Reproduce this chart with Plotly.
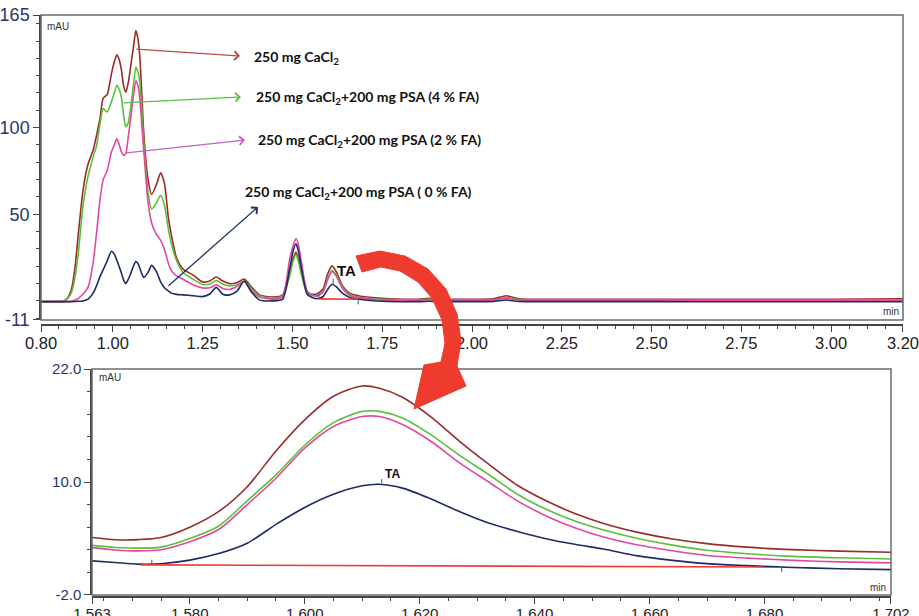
import plotly.graph_objects as go

# ---------------- data ----------------
time_min = [0.80, 0.85, 0.862, 0.875, 0.885, 0.895, 0.904, 0.917, 0.931, 0.945,
            0.955, 0.964, 0.973, 0.984, 0.996, 1.004, 1.011, 1.018, 1.024, 1.030,
            1.036, 1.043, 1.050, 1.057, 1.064, 1.070, 1.075, 1.080, 1.086, 1.098,
            1.108, 1.121, 1.133, 1.144, 1.154, 1.163, 1.177, 1.195, 1.223, 1.250,
            1.270, 1.288, 1.306, 1.325, 1.345, 1.366, 1.385, 1.408, 1.445, 1.473,
            1.492, 1.502, 1.510, 1.517, 1.524, 1.542, 1.566, 1.585, 1.598, 1.610,
            1.622, 1.640, 1.660, 1.690, 1.75, 1.85, 1.88, 1.91, 2.00, 2.06,
            2.095, 2.13, 2.25, 2.50, 2.75, 3.00, 3.20]

cacl2 = [-0.4, -0.4, -0.2, 2, 7, 20, 39, 64, 79, 87,
         96, 105, 117, 119, 131, 138, 142, 139, 133, 124,
         120.5, 126, 136, 146, 156, 151, 141, 122, 97, 70,
         61.5, 67, 74, 67.5, 49, 38, 25, 18.5, 15, 11,
         11.5, 13.8, 11.5, 10.0, 10.5, 12.6, 8.3, 3.5, 2.2, 3.5,
         18, 24.5, 28, 24, 18, 4.5, 3.9, 6.85, 15.5, 20.2,
         16.9, 8.5, 4.4, 2.7, 1.5, 1.0, 1.5, 1.0, 1.0, 1.2,
         3.0, 1.3, 1.0, 1.0, 1.0, 1.0, 1.2]

psa_4fa = [-0.4, -0.4, -0.3, 1.5, 5, 14, 28, 55, 72, 83,
           90, 102, 111, 109, 115, 120, 124.5, 122, 117, 107,
           100.5, 103, 112, 124, 135, 132, 126.5, 112, 92, 62.5,
           53, 56.5, 61, 55, 42, 33, 23.5, 16.5, 12.6, 9.5,
           9.8, 11.8, 9.8, 8.6, 9.3, 11.4, 7.2, 2.9, 1.6, 2.9,
           14, 23, 26.7, 22.5, 16, 4.0, 3.0, 5.3, 12.7, 17.5,
           15.0, 7.6, 3.7, 2.0, 1.0, 0.6, 1.0, 0.6, 0.5, 0.7,
           2.0, 0.8, 0.5, 0.5, 0.5, 0.5, 0.6]

psa_2fa = [-0.4, -0.4, -0.4, -0.4, -0.2, 0.5, 1.5, 4, 8, 22,
           40, 58, 70, 75, 86, 90, 93.6, 90, 86, 84,
           85, 95, 106, 118, 127, 124, 117, 103, 87, 57,
           45, 38.5, 35, 29.5, 22, 17.5, 14.5, 12.5, 9.3, 7.5,
           7.6, 9.3, 7.2, 6.6, 8.3, 11.2, 6.0, 2.2, 1.0, 2.5,
           23.8, 32, 36, 32, 23.8, 5.4, 2.7, 4.95, 12.3, 16.95,
           14.3, 7.0, 3.1, 1.6, 0.6, 0.3, 0.7, 0.3, 0.3, 0.4,
           1.5, 0.5, 0.3, 0.3, 0.2, 0.2, 0.3]

psa_0fa = [-0.4, -0.4, -0.4, -0.4, -0.4, -0.3, -0.2, 0, 1, 4.5,
           9, 14, 18, 23, 28.7, 27, 23.5, 19.5, 16, 12,
           10, 12.5, 16, 20, 22.8, 21.5, 19, 16, 13.5, 16.5,
           20.5, 17, 11, 7.5, 5.8, 4.5, 3.8, 3.5, 3, 2.5,
           4, 7.8, 3.8, 3.5, 5.5, 11.5, 5.4, 0.6, 0, 1.0,
           18, 29, 33, 28.5, 20, 3.5, 1.3, 2.4, 6.6, 9.6,
           8.2, 4.3, 2.0, 0.8, -0.2, -0.4, -0.2, -0.4, -0.4, -0.3,
           0.5, -0.3, -0.4, -0.4, -0.5, -0.5, -0.5]

# zoomed view of the TA peak
time_zoom = [1.563, 1.567, 1.571, 1.575, 1.580, 1.585, 1.590, 1.595, 1.600, 1.605,
             1.610, 1.613, 1.617, 1.622, 1.627, 1.632, 1.637, 1.642, 1.647, 1.652,
             1.658, 1.664, 1.670, 1.677, 1.685, 1.693, 1.702]
zoom_cacl2 = [4.1, 3.87, 3.88, 4.1, 5.2, 6.85, 9.5, 13.3, 16.6, 19.1,
              20.2, 19.95, 19.0, 16.9, 14.3, 11.9, 9.65, 8.0, 6.65, 5.6,
              4.65, 3.95, 3.45, 3.08, 2.82, 2.66, 2.54]
zoom_4fa = [3.27, 3.05, 2.98, 3.08, 4.0, 5.3, 8.0, 10.75, 13.9, 16.3,
            17.5, 17.5, 16.8, 15.0, 12.8, 10.8, 8.7, 7.1, 5.85, 4.9,
            4.0, 3.3, 2.75, 2.38, 2.1, 1.95, 1.83]
zoom_2fa = [3.03, 2.78, 2.68, 2.8, 3.65, 4.95, 7.6, 10.4, 13.6, 15.9,
            16.95, 16.95, 16.1, 14.3, 12.0, 10.0, 8.0, 6.4, 5.15, 4.15,
            3.3, 2.7, 2.2, 1.92, 1.68, 1.52, 1.41]
zoom_0fa = [1.62, 1.45, 1.28, 1.32, 1.70, 2.4, 3.5, 5.5, 7.3, 8.7,
            9.6, 9.76, 9.35, 8.2, 6.85, 5.65, 4.75, 3.98, 3.38, 2.88,
            2.15, 1.68, 1.33, 1.12, 0.92, 0.79, 0.69]

# TA integration (baseline start / end, apex)
ta_base_t = [1.5714, 1.6830]
ta_base_v = [1.20, 0.97]
ta_apex = (1.6134, 9.76)

series_names = ["250 mg CaCl<sub>2</sub>",
                "250 mg CaCl<sub>2</sub>+200 mg PSA (4 % FA)",
                "250 mg CaCl<sub>2</sub>+200 mg PSA (2 % FA)",
                "250 mg CaCl<sub>2</sub>+200 mg PSA ( 0 % FA)"]

main_xticks = [0.80, 1.00, 1.25, 1.50, 1.75, 2.00, 2.25, 2.50, 2.75, 3.00, 3.20]
main_yticks = [-11, 50, 100, 165]
zoom_xticks = [1.563, 1.580, 1.600, 1.620, 1.640, 1.660, 1.680, 1.702]
zoom_yticks = [-2.0, 10.0, 22.0]

# ---------------- styling ----------------
W, H = 919, 616
colors = ["#9a2b2b", "#5bbf3a", "#e2489e", "#1d2b66"]
arrow_colors = ["#b84a4a", "#5cc043", "#c35fc6", "#1f3263"]
NARROW = "Liberation Sans Narrow, Arial Narrow, Liberation Sans, Arial, sans-serif"
LABEL_FONT = "Lato, Open Sans, sans-serif"
EPS = 1e-4

def fx(p):
    return p / W

def fy(p):
    return 1 - p / H

fig = go.Figure()

main_series = [cacl2, psa_4fa, psa_2fa, psa_0fa]
zoom_series = [zoom_cacl2, zoom_4fa, zoom_2fa, zoom_0fa]
for ser, col, name in zip(main_series, colors, series_names):
    fig.add_trace(go.Scatter(x=time_min, y=ser, mode="lines", name=name,
                             line=dict(color=col, width=1.6, shape="spline", smoothing=0.6),
                             xaxis="x", yaxis="y", hoverinfo="skip"))
for ser, col, name in zip(zoom_series, colors, series_names):
    fig.add_trace(go.Scatter(x=time_zoom, y=ser, mode="lines", name=name,
                             line=dict(color=col, width=1.6, shape="spline", smoothing=0.8),
                             xaxis="x2", yaxis="y2", hoverinfo="skip"))

# integration baselines
for xa, ya in [("x", "y"), ("x2", "y2")]:
    fig.add_trace(go.Scatter(x=ta_base_t, y=ta_base_v, mode="lines",
                             line=dict(color="#ee3b36", width=1.6),
                             xaxis=xa, yaxis=ya, hoverinfo="skip"))

shapes = []
# frames
for xa, ya in [("x", "y"), ("x2", "y2")]:
    shapes.append(dict(type="rect", xref=f"{xa} domain", yref=f"{ya} domain",
                       x0=0, x1=1, y0=0, y1=1, line=dict(color="#6b6b6b", width=1.5)))

# integration tick marks
for xa, ya, h in [("x", "y", 3.0), ("x2", "y2", 0.55)]:
    shapes.append(dict(type="line", xref=xa, yref=ya, x0=ta_base_t[0] + 0.002, x1=ta_base_t[0] + 0.002,
                       y0=ta_base_v[0] + 0.05, y1=ta_base_v[0] + h, line=dict(color="#3a4fb0", width=1)))
    shapes.append(dict(type="line", xref=xa, yref=ya, x0=ta_base_t[1], x1=ta_base_t[1],
                       y0=ta_base_v[1] - h, y1=ta_base_v[1], line=dict(color="#3a4fb0", width=1)))
    shapes.append(dict(type="line", xref=xa, yref=ya, x0=ta_apex[0], x1=ta_apex[0],
                       y0=ta_apex[1] + 0.1, y1=ta_apex[1] + h, line=dict(color="#3a4fb0", width=1)))

# big red curved arrow (pixel outline -> paper coords)
outer = [(356, 256), (380, 251), (405, 256), (428, 269), (446, 289), (457, 314), (461, 341), (457, 366)]
inner = [(362, 272), (381, 267), (400, 271), (418, 282), (432, 298), (442, 320), (445, 343), (441, 362)]
head = [(466, 386), (414, 409), (424, 365)]
pts = outer + head + inner[::-1]
path = "M " + " L ".join(f"{fx(x):.5f},{fy(y):.5f}" for x, y in pts) + " Z"
shapes.append(dict(type="path", xref="paper", yref="paper", path=path,
                   fillcolor="#ee3b2d", line=dict(color="#ee3b2d", width=1)))

annotations = []
# label arrows: (tail px, head px)
arrows = [((135, 49), (240, 56)), ((122, 103), (241, 97)), ((125, 153), (245, 140)), ((167, 287), (258, 207))]
label_pos = [(252, 57), (254, 97), (256, 140), (243, 192)]
for (tail, hd), col, (lx, ly), name in zip(arrows, arrow_colors, label_pos, series_names):
    annotations.append(dict(x=fx(hd[0]), y=fy(hd[1]), xref="paper", yref="paper",
                            ax=tail[0] - hd[0], ay=tail[1] - hd[1], text="",
                            showarrow=True, arrowhead=4, arrowsize=1.3, arrowwidth=1.3,
                            arrowcolor=col))
    annotations.append(dict(x=fx(lx), y=fy(ly), xref="paper", yref="paper", xanchor="left",
                            yanchor="middle", text=f"<b>{name}</b>", showarrow=False,
                            font=dict(family=LABEL_FONT, size=14, color="#111")))

# TA labels
annotations.append(dict(x=ta_apex[0], y=ta_apex[1], xref="x", yref="y", text="<b>TA</b>",
                        showarrow=False, xanchor="left", yanchor="bottom", xshift=2, yshift=3,
                        font=dict(family=NARROW, size=15, color="#111")))
annotations.append(dict(x=ta_apex[0], y=ta_apex[1], xref="x2", yref="y2", text="<b>TA</b>",
                        showarrow=False, xanchor="left", yanchor="bottom", xshift=1, yshift=1,
                        font=dict(family="Liberation Sans, Arial, sans-serif", size=12, color="#111")))

# unit labels
for (x, y, t, anc) in [(45, 26, "mAU", "left"), (97, 377, "mAU", "left"),
                       (901, 311, "min", "right"), (888, 587, "min", "right")]:
    annotations.append(dict(x=fx(x), y=fy(y), xref="paper", yref="paper", text=t, showarrow=False,
                            xanchor=anc, yanchor="middle",
                            font=dict(family=NARROW, size=10, color="#333")))

axis_common = dict(showgrid=False, zeroline=False, showline=True, linecolor="#444", linewidth=1.5,
                   ticks="outside", ticklen=6, tickwidth=1, tickcolor="#444", automargin=False,
                   ticklabeloverflow="allow")

fig.update_layout(
    width=W, height=H, margin=dict(l=0, r=0, t=0, b=0, autoexpand=False),
    paper_bgcolor="white", plot_bgcolor="white", showlegend=False,
    xaxis=dict(domain=[fx(41), fx(903)], range=[0.80 - EPS, 3.20 + EPS], anchor="free", position=fy(325),
               tickvals=main_xticks, ticktext=[f"{v:.2f}" for v in main_xticks],
               tickfont=dict(family=NARROW, size=16.5, color="#222"), ticklabelstandoff=-3,
               minor=dict(dtick=0.05, tick0=0.80, ticks="outside", ticklen=3, tickcolor="#444"),
               **axis_common),
    yaxis=dict(domain=[fy(320), fy(15)], range=[-11 - 0.01, 165 + 0.01], anchor="x",
               tickvals=main_yticks, ticktext=[str(v) for v in main_yticks],
               tickfont=dict(family=NARROW, size=18, color="#27346e"),
               minor=dict(dtick=10, tick0=0, ticks="outside", ticklen=3, tickcolor="#444"),
               **axis_common),
    xaxis2=dict(domain=[fx(92), fx(891)], range=[1.563 - EPS / 10, 1.702 + EPS / 10], anchor="free",
                position=fy(597),
                tickvals=zoom_xticks, ticktext=[f"{v:.3f}" for v in zoom_xticks],
                tickfont=dict(family=NARROW, size=15, color="#222"), ticklabelstandoff=-3,
                minor=dict(dtick=0.005, tick0=1.565, ticks="outside", ticklen=3, tickcolor="#444"),
                **axis_common),
    yaxis2=dict(domain=[fy(595), fy(369)], range=[-2 - 0.001, 22 + 0.001], anchor="x2",
                tickvals=zoom_yticks, ticktext=[f"{v:.1f}" for v in zoom_yticks],
                tickfont=dict(family=NARROW, size=15, color="#27346e"),
                minor=dict(dtick=2.4, tick0=-2, ticks="outside", ticklen=3, tickcolor="#444"),
                **axis_common),
    shapes=shapes, annotations=annotations,
)

fig.write_html("out.html", config={"displayModeBar": False},
               post_script="document.body.style.margin='0';")
